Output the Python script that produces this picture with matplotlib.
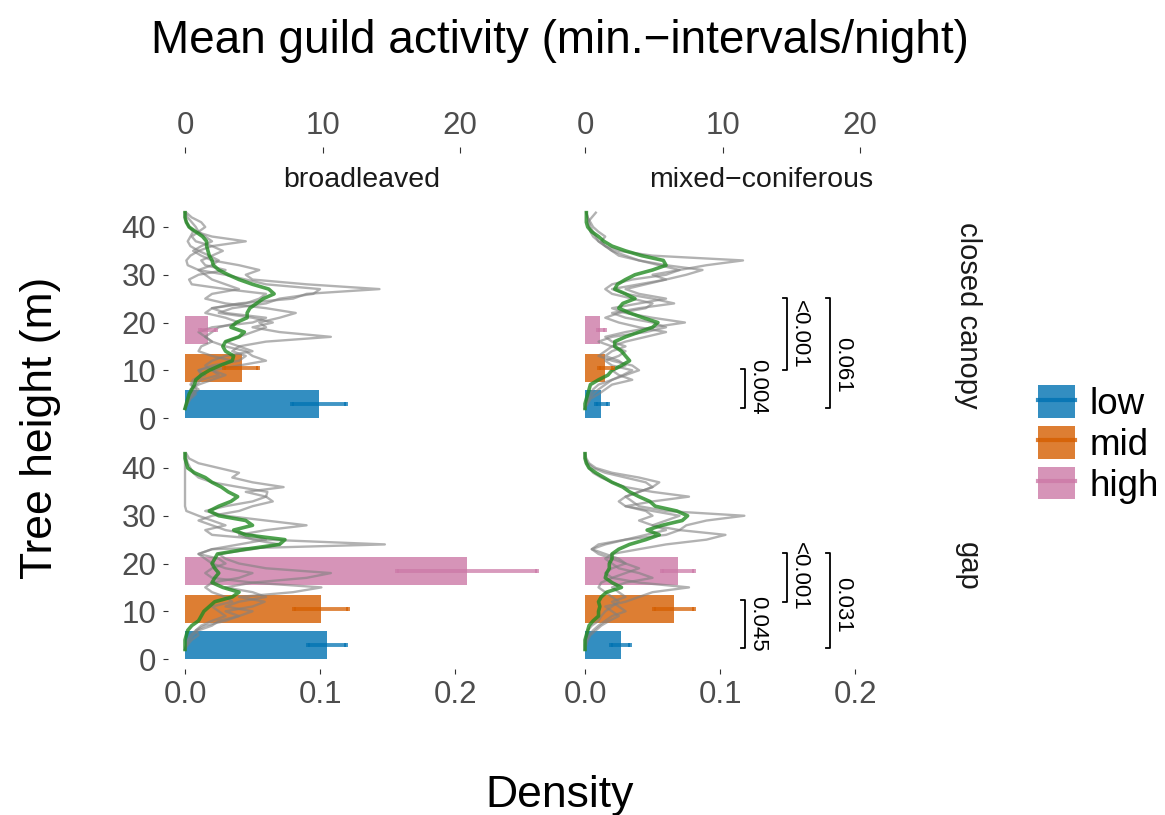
import matplotlib.pyplot as plt
from matplotlib.patches import Patch
from matplotlib.lines import Line2D

plt.rcParams['font.family'] = ['Liberation Sans', 'DejaVu Sans']

# guild activity bars (density units), one list per facet: low, mid, high
guilds = ['low', 'mid', 'high']
guild_cols = ['#0072B2', '#D55E00', '#CC79A7']
bar_pos = [3.0, 10.45, 18.4]

tl_mean = [0.099, 0.042, 0.017]
tl_lo = [0.079, 0.029, 0.011]
tl_hi = [0.119, 0.054, 0.023]
tr_mean = [0.012, 0.015, 0.011]
tr_lo = [0.0085, 0.010, 0.0095]
tr_hi = [0.017, 0.021, 0.0145]
bl_mean = [0.105, 0.101, 0.209]
bl_lo = [0.091, 0.081, 0.157]
bl_hi = [0.119, 0.121, 0.261]
br_mean = [0.027, 0.066, 0.069]
br_lo = [0.0195, 0.051, 0.057]
br_hi = [0.033, 0.081, 0.081]

# tree height density profiles, heights 2..43 m
heights = list(range(2, 44))
tl_green = [0, 0.001, 0.002, 0.003, 0.005, 0.007, 0.008, 0.012, 0.018, 0.026, 0.035, 0.036, 0.03, 0.028,
            0.03, 0.04, 0.044, 0.034, 0.038, 0.046, 0.046, 0.048, 0.053, 0.058, 0.066, 0.062, 0.05, 0.04,
            0.032, 0.025, 0.021, 0.02, 0.018, 0.017, 0.016, 0.016, 0.013, 0.008, 0.003, 0.001, 0, 0]
tl_grey1 = [0, 0.001, 0.003, 0.006, 0.01, 0.005, 0.008, 0.015, 0.01, 0.025, 0.035, 0.02, 0.01, 0.012,
            0.02, 0.015, 0.01, 0.02, 0.05, 0.06, 0.03, 0.02, 0.04, 0.08, 0.09, 0.144, 0.09, 0.05,
            0.045, 0.055, 0.04, 0.02, 0.012, 0.006, 0.012, 0.02, 0.015, 0.01, 0.008, 0.005, 0.002, 0]
tl_grey2 = [0, 0.001, 0.002, 0.004, 0.008, 0.004, 0.006, 0.012, 0.01, 0.02, 0.04, 0.045, 0.035, 0.04,
            0.06, 0.108, 0.07, 0.05, 0.065, 0.05, 0.025, 0.035, 0.06, 0.07, 0.095, 0.10, 0.06, 0.045,
            0.03, 0.01, 0.002, 0.001, 0.004, 0.01, 0.02, 0.045, 0.02, 0.008, 0.003, 0.001, 0, 0]
tl_grey3 = [0, 0.002, 0.004, 0.008, 0.005, 0.008, 0.012, 0.025, 0.02, 0.04, 0.06, 0.05, 0.045, 0.03,
            0.02, 0.015, 0.02, 0.025, 0.04, 0.03, 0.015, 0.02, 0.045, 0.055, 0.06, 0.03, 0.005, 0.003,
            0.01, 0.03, 0.015, 0.012, 0.02, 0.028, 0.02, 0.008, 0.005, 0.01, 0.015, 0.012, 0.005, 0.001]
tl_grey4 = [0, 0.001, 0.003, 0.006, 0.004, 0.01, 0.02, 0.03, 0.02, 0.015, 0.02, 0.03, 0.05, 0.04,
            0.03, 0.04, 0.05, 0.06, 0.055, 0.07, 0.082, 0.06, 0.03, 0.015, 0.02, 0.04, 0.03, 0.02,
            0.015, 0.01, 0.02, 0.025, 0.018, 0.01, 0.004, 0.002, 0.004, 0.006, 0.003, 0.001, 0, 0]

tr_green = [0, 0, 0.001, 0.002, 0.003, 0.004, 0.01, 0.017, 0.02, 0.027, 0.033, 0.03, 0.027, 0.022,
            0.022, 0.03, 0.04, 0.05, 0.054, 0.043, 0.033, 0.025, 0.028, 0.037, 0.03, 0.022, 0.024, 0.03,
            0.037, 0.05, 0.06, 0.058, 0.042, 0.03, 0.02, 0.014, 0.01, 0.005, 0.002, 0.001, 0.001, 0.001]
tr_grey1 = [0, 0.002, 0.004, 0.01, 0.015, 0.02, 0.035, 0.025, 0.02, 0.03, 0.025, 0.015, 0.02, 0.03,
            0.02, 0.015, 0.03, 0.05, 0.074, 0.05, 0.03, 0.02, 0.04, 0.06, 0.04, 0.03, 0.045, 0.06,
            0.05, 0.07, 0.09, 0.117, 0.05, 0.025, 0.015, 0.01, 0.006, 0.004, 0.003, 0.002, 0.005, 0.008]
tr_grey2 = [0, 0.001, 0.003, 0.006, 0.01, 0.015, 0.02, 0.028, 0.035, 0.02, 0.015, 0.025, 0.03, 0.02,
            0.01, 0.02, 0.045, 0.06, 0.05, 0.03, 0.02, 0.04, 0.066, 0.05, 0.03, 0.02, 0.04, 0.06,
            0.075, 0.087, 0.06, 0.04, 0.025, 0.02, 0.015, 0.01, 0.008, 0.006, 0.004, 0.003, 0.002, 0.001]
tr_grey3 = [0, 0.001, 0.002, 0.004, 0.006, 0.01, 0.02, 0.03, 0.04, 0.035, 0.02, 0.01, 0.015, 0.02,
            0.03, 0.045, 0.06, 0.04, 0.025, 0.015, 0.025, 0.045, 0.05, 0.035, 0.02, 0.015, 0.02, 0.035,
            0.06, 0.07, 0.055, 0.04, 0.03, 0.02, 0.015, 0.012, 0.015, 0.01, 0.006, 0.004, 0.002, 0.001]

bl_green = [0, 0, 0, 0.001, 0.002, 0.005, 0.01, 0.012, 0.014, 0.018, 0.022, 0.035, 0.04, 0.028,
            0.02, 0.022, 0.025, 0.022, 0.02, 0.022, 0.024, 0.045, 0.07, 0.074, 0.045, 0.036, 0.05, 0.045,
            0.025, 0.018, 0.025, 0.034, 0.039, 0.032, 0.027, 0.02, 0.015, 0.007, 0.002, 0.001, 0, 0]
bl_grey1 = [0, 0.002, 0.005, 0.01, 0.008, 0.015, 0.03, 0.04, 0.03, 0.05, 0.059, 0.04, 0.08, 0.101,
            0.05, 0.02, 0.015, 0.02, 0.03, 0.025, 0.01, 0.02, 0.148, 0.06, 0.02, 0.015, 0.03, 0.02,
            0.01, 0.001, 0, 0, 0, 0, 0, 0, 0, 0, 0, 0, 0, 0]
bl_grey2 = [0, 0.001, 0.003, 0.006, 0.01, 0.02, 0.025, 0.04, 0.05, 0.03, 0.04, 0.06, 0.05, 0.03,
            0.05, 0.09, 0.108, 0.06, 0.04, 0.03, 0.025, 0.05, 0.07, 0.05, 0.04, 0.06, 0.09, 0.06,
            0.03, 0.015, 0.03, 0.05, 0.06, 0.061, 0.04, 0.02, 0.01, 0.006, 0.004, 0.002, 0.001, 0]
bl_grey3 = [0, 0.001, 0.002, 0.004, 0.008, 0.012, 0.02, 0.03, 0.025, 0.02, 0.035, 0.03, 0.02, 0.015,
            0.02, 0.04, 0.05, 0.03, 0.02, 0.015, 0.01, 0.02, 0.04, 0.06, 0.05, 0.03, 0.02, 0.01,
            0.02, 0.04, 0.05, 0.065, 0.06, 0.045, 0.073, 0.05, 0.035, 0.04, 0.025, 0.01, 0.003, 0.001]

br_green = [0, 0, 0, 0.001, 0.002, 0.003, 0.006, 0.01, 0.01, 0.011, 0.01, 0.012, 0.016, 0.027,
            0.02, 0.015, 0.016, 0.018, 0.018, 0.02, 0.02, 0.025, 0.033, 0.045, 0.055, 0.046, 0.057, 0.072,
            0.076, 0.068, 0.052, 0.048, 0.04, 0.033, 0.028, 0.02, 0.014, 0.008, 0.003, 0.001, 0, 0]
br_grey1 = [0, 0.001, 0.002, 0.004, 0.008, 0.012, 0.018, 0.025, 0.02, 0.015, 0.03, 0.04, 0.05, 0.077,
            0.04, 0.02, 0.015, 0.02, 0.03, 0.025, 0.015, 0.005, 0.01, 0.03, 0.06, 0.07, 0.075, 0.09,
            0.118, 0.06, 0.04, 0.035, 0.03, 0.04, 0.05, 0.055, 0.04, 0.02, 0.008, 0.003, 0.001, 0]
br_grey2 = [0, 0, 0.001, 0.003, 0.006, 0.01, 0.015, 0.02, 0.03, 0.025, 0.02, 0.03, 0.025, 0.02,
            0.03, 0.05, 0.04, 0.025, 0.02, 0.015, 0.02, 0.04, 0.06, 0.09, 0.104, 0.07, 0.05, 0.06,
            0.07, 0.05, 0.03, 0.05, 0.077, 0.05, 0.03, 0.02, 0.012, 0.006, 0.003, 0.001, 0, 0]
br_grey3 = [0, 0, 0, 0.001, 0.002, 0.005, 0.01, 0.012, 0.015, 0.02, 0.025, 0.02, 0.015, 0.01,
            0.012, 0.02, 0.03, 0.04, 0.03, 0.02, 0.01, 0.005, 0.015, 0.03, 0.045, 0.06, 0.05, 0.04,
            0.05, 0.045, 0.03, 0.025, 0.03, 0.04, 0.05, 0.045, 0.03, 0.015, 0.006, 0.002, 0, 0]

# significance brackets in the right column: (from, to, x, label, label height)
top_brackets = [(2.1, 10.3, 0.1185, '0.004', 6.5),
                (10.05, 25.1, 0.1496, '<0.001', 17.6),
                (2.1, 25.1, 0.1815, '0.061', 11.1)]
bot_brackets = [(2.3, 12.4, 0.1185, '0.045', 7.3),
                (11.9, 22.2, 0.1496, '<0.001', 17.4),
                (2.3, 22.2, 0.1815, '0.031', 11.3)]

W, H = 1165, 815
fig = plt.figure(figsize=(W / 100, H / 100), dpi=100)


def rect(l, t, r, b):
    return [l / W, 1 - b / H, (r - l) / W, (b - t) / H]


cols = [(168, 555), (568, 955)]
rows = [(202.4, 428.3), (443.4, 669.3)]
panels = [
    (0, 0, tl_mean, tl_lo, tl_hi, [tl_grey1, tl_grey2, tl_grey3, tl_grey4], tl_green, None),
    (0, 1, tr_mean, tr_lo, tr_hi, [tr_grey1, tr_grey2, tr_grey3], tr_green, top_brackets),
    (1, 0, bl_mean, bl_lo, bl_hi, [bl_grey1, bl_grey2, bl_grey3], bl_green, None),
    (1, 1, br_mean, br_lo, br_hi, [br_grey1, br_grey2, br_grey3], br_green, bot_brackets),
]
tick_col = '#4D4D4D'
for r, c, mean, lo, hi, greys, green, brackets in panels:
    ax = fig.add_axes(rect(cols[c][0], rows[r][0], cols[c][1], rows[r][1]))
    ax.set_xlim(-0.0126, 0.274)
    ax.set_ylim(-2.15, 45.15)
    for s in ax.spines.values():
        s.set_visible(False)
    for g in greys:
        ax.plot(g, heights, color='#808080', alpha=0.6, lw=1.7)
    ax.plot(green, heights, color='#228B22', alpha=0.8, lw=2.6)
    for i in range(3):
        ax.barh(bar_pos[i], mean[i], height=5.9, color=guild_cols[i], alpha=0.8, lw=0)
        ax.errorbar(mean[i], bar_pos[i], xerr=[[mean[i] - lo[i]], [hi[i] - mean[i]]], fmt='none',
                    ecolor=guild_cols[i], elinewidth=2.8, capsize=1.2, capthick=2.8, alpha=0.75)
    if c == 0:
        ax.set_yticks([0, 10, 20, 30, 40])
        ax.tick_params(axis='y', length=3.6, width=0.8, color='#333333', pad=5,
                       labelsize=22.5, labelcolor=tick_col)
    else:
        ax.tick_params(axis='y', left=False, labelleft=False)
    if r == 1:
        ax.set_xticks([0, 0.1, 0.2])
        ax.set_xticklabels(['0.0', '0.1', '0.2'])
        ax.tick_params(axis='x', length=3.6, width=0.8, color='#333333', pad=4,
                       labelsize=22.5, labelcolor=tick_col)
    else:
        ax.tick_params(axis='x', bottom=False, labelbottom=False)
        sec = ax.secondary_xaxis(1.2187, functions=(lambda x: x * 98.2, lambda x: x / 98.2))
        sec.set_xticks([0, 10, 20])
        sec.tick_params(length=4.3, width=0.8, color='#333333', pad=4,
                        labelsize=22.5, labelcolor=tick_col)
        for s in sec.spines.values():
            s.set_visible(False)
    if brackets:
        for y0, y1, x, lab, ly in brackets:
            ax.plot([x - 0.003, x, x, x - 0.003], [y0, y0, y1, y1], color='black', lw=1.3,
                    clip_on=False)
            ax.text(x + 0.0012, ly, lab, rotation=-90, rotation_mode='anchor', ha='center',
                    va='bottom', fontsize=16, color='black')

# strips
fig.text(361.5 / W, 1 - 180 / H, 'broadleaved', ha='center', va='center', fontsize=20.5, color='#1A1A1A')
fig.text(761.5 / W, 1 - 180 / H, 'mixed\u2212coniferous', ha='center', va='center', fontsize=20.5,
         color='#1A1A1A')
fig.text(968 / W, 1 - 315 / H, 'closed canopy', ha='center', va='center', rotation=-90, fontsize=21,
         color='#1A1A1A')
fig.text(968 / W, 1 - 566 / H, 'gap', ha='center', va='center', rotation=-90, fontsize=21,
         color='#1A1A1A')

fig.text(560 / W, 1 - 41 / H, 'Mean guild activity (min.\u2212intervals/night)', ha='center', va='center',
         fontsize=33)
fig.text(41 / W, 1 - 428 / H, 'Tree height (m)', ha='center', va='center', rotation=90, fontsize=32)
fig.text(560 / W, 1 - 795 / H, 'Density', ha='center', va='center', fontsize=32)

handles = [(Patch(facecolor=col, alpha=0.8, lw=0), Line2D([], [], color=col, lw=3, alpha=0.8))
           for col in guild_cols]
fig.legend(handles, guilds, loc='upper left', bbox_to_anchor=(1038 / W, 1 - 385 / H), frameon=False,
           fontsize=26.5, handlelength=1.0, handleheight=1.0, labelspacing=0.1, handletextpad=0.4,
           borderpad=0, borderaxespad=0)

fig.savefig('out.png', dpi=100)
